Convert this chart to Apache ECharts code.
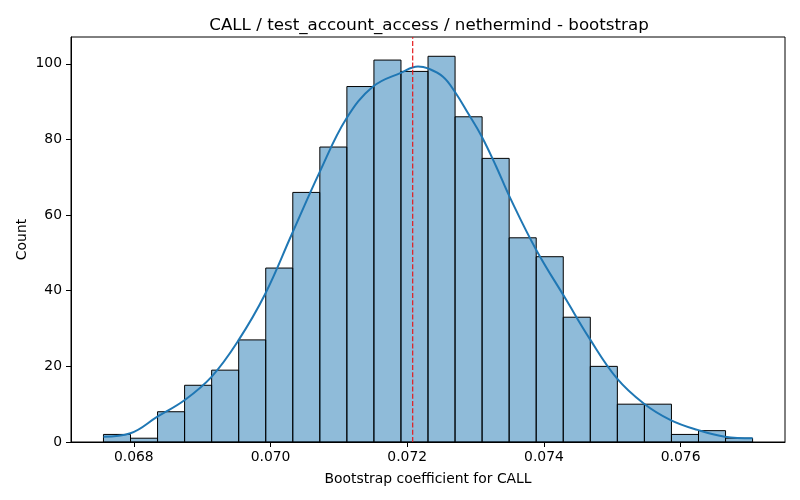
<!DOCTYPE html>
<html>
<head>
<meta charset="utf-8">
<script src="https://cdn.jsdelivr.net/npm/echarts@6/dist/echarts.min.js"></script>
<style>
html,body{margin:0;padding:0;background:#fff;}
#chart{width:800px;height:500px;}
</style>
</head>
<body>
<div id="chart"></div>
<script>
// Histogram bins
var binStart = 0.067556;
var binWidth = 0.0003957;
var counts = [2, 1, 8, 15, 19, 27, 46, 66, 78, 94, 101, 98, 102, 86, 75, 54, 49, 33, 20, 10, 10, 2, 3, 1];
// KDE curve (x, count-scaled density)
var kdeX = [0.067556, 0.067950, 0.068345, 0.068745, 0.069140, 0.069528, 0.069918, 0.070308, 0.070722, 0.071112, 0.071500, 0.071915, 0.072158, 0.072304, 0.072523, 0.072694, 0.072888, 0.073084, 0.073303, 0.073497, 0.073888, 0.074326, 0.074666, 0.075065, 0.075460, 0.075854, 0.076248, 0.076649, 0.077052];
var kdeY = [1.4, 2.3, 6.7, 11.1, 17.3, 26.8, 39.0, 54.8, 71.5, 85.6, 94.0, 97.7, 99.3, 98.8, 96.6, 92.7, 87.0, 81.0, 72.8, 64.9, 50.8, 37.6, 27.4, 16.9, 10.2, 5.8, 3.2, 1.4, 1.0];
var meanValue = 0.07208;
var xTicks = [0.068, 0.070, 0.072, 0.074, 0.076];
var yTicks = [0, 20, 40, 60, 80, 100];
var yMax = 107.1;

var histData = counts.map(function (c, i) {
  return [binStart + i * binWidth, binStart + (i + 1) * binWidth, c];
});
var kdeData = kdeX.map(function (x, i) { return [x, kdeY[i]]; });

var chart = echarts.init(document.getElementById('chart'), null, {renderer: 'canvas'});
var font = 'DejaVu Sans';
chart.setOption({
  animation: false,
  backgroundColor: '#fff',
  title: {
    text: 'CALL / test_account_access / nethermind - bootstrap',
    left: 424, top: 12, textAlign: 'center',
    textStyle: {fontFamily: font, fontSize: 16.7, fontWeight: 'normal', color: '#000'}
  },
  grid: {left: 71, right: 15, top: 37, bottom: 58, show: true, borderColor: '#000', borderWidth: 1, backgroundColor: 'transparent'},
  xAxis: {
    type: 'value', min: 0.067081, max: 0.077527,
    name: 'Bootstrap coefficient for CALL', nameLocation: 'middle', nameGap: 30,
    nameMoveOverlap: false,
    nameTextStyle: {fontFamily: font, fontSize: 13.9, color: '#000'},
    axisLine: {show: true, onZero: false, lineStyle: {color: '#000', width: 1}},
    axisTick: {show: true, length: 5, lineStyle: {color: '#000', width: 1}, customValues: xTicks},
    axisLabel: {fontFamily: font, fontSize: 13.9, color: '#000', margin: 8, customValues: xTicks,
      formatter: function (v) { return v.toFixed(3); }},
    splitLine: {show: false}
  },
  yAxis: {
    type: 'value', min: 0, max: yMax, interval: 20,
    name: 'Count', nameLocation: 'middle', nameGap: 42,
    nameMoveOverlap: false,
    nameTextStyle: {fontFamily: font, fontSize: 13.9, color: '#000'},
    axisLine: {show: true, lineStyle: {color: '#000', width: 1}},
    axisTick: {show: true, length: 5, lineStyle: {color: '#000', width: 1}, customValues: yTicks},
    axisLabel: {fontFamily: font, fontSize: 13.9, color: '#000', margin: 9, customValues: yTicks},
    splitLine: {show: false}
  },
  series: [
    {
      type: 'custom',
      data: histData,
      encode: {x: [0, 1], y: 2},
      renderItem: function (params, api) {
        var p0 = api.coord([api.value(0), api.value(2)]);
        var p1 = api.coord([api.value(1), 0]);
        return {
          type: 'rect',
          shape: {x: p0[0], y: p0[1], width: p1[0] - p0[0], height: p1[1] - p0[1]},
          style: {fill: 'rgba(31,119,180,0.5)', stroke: '#000', lineWidth: 1}
        };
      },
      z: 2
    },
    {
      type: 'line',
      data: kdeData,
      smooth: 0.4,
      symbol: 'none',
      lineStyle: {color: '#1f77b4', width: 2},
      z: 3
    },
    {
      type: 'line',
      data: [[meanValue, 0], [meanValue, yMax]],
      symbol: 'none',
      lineStyle: {color: '#e41a1c', type: [5, 2.2], width: 1.2},
      z: 4
    }
  ]
});
</script>
</body>
</html>
